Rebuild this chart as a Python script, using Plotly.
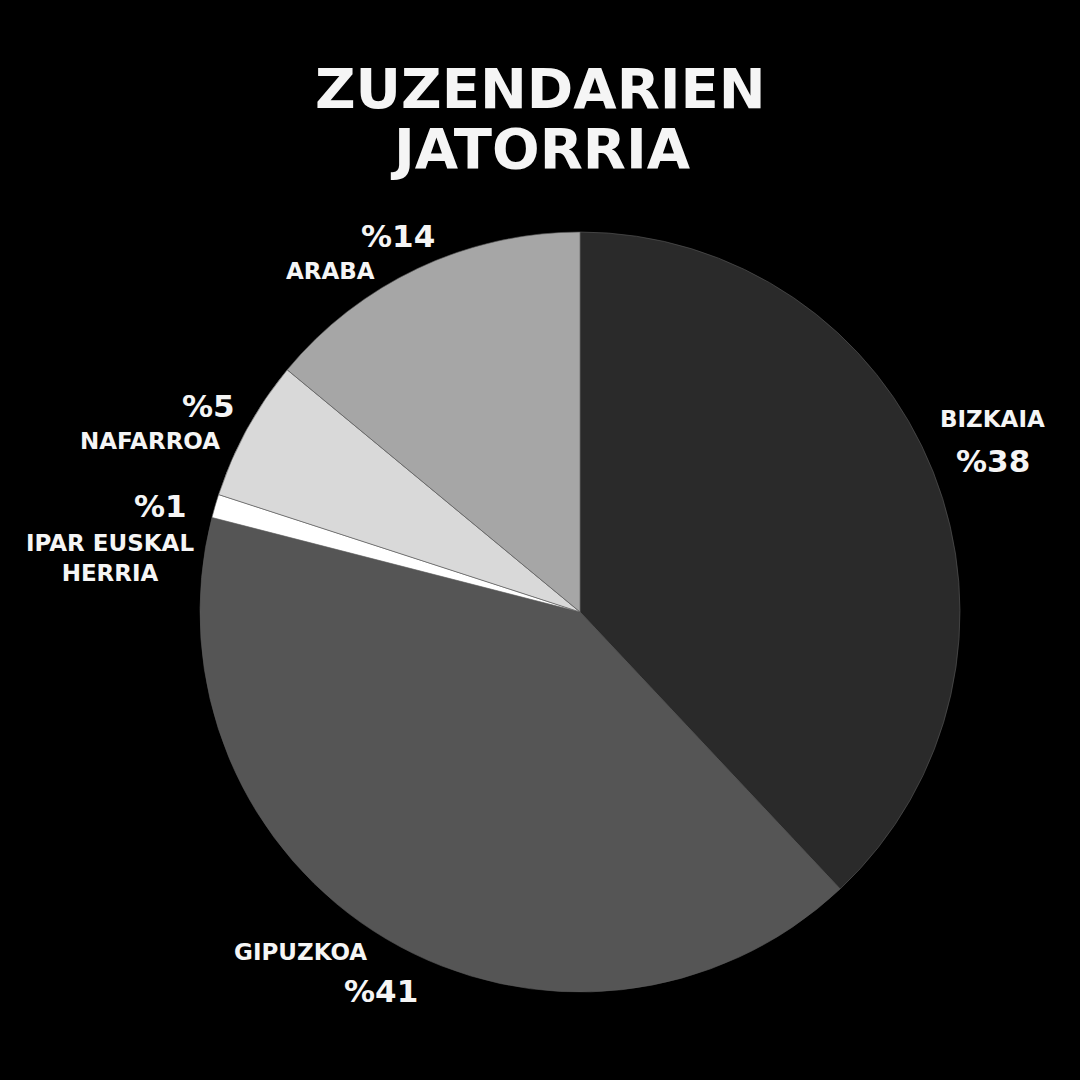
import plotly.graph_objects as go

# Data
regions = ["BIZKAIA", "GIPUZKOA", "IPAR EUSKAL HERRIA", "NAFARROA", "ARABA"]
values = [38, 41, 1, 6, 14]
pct_labels = ["%38", "%41", "%1", "%5", "%14"]
name_labels = ["BIZKAIA", "GIPUZKOA", "IPAR EUSKAL<br>HERRIA", "NAFARROA", "ARABA"]
colors = ["#2a2a2a", "#555555", "#ffffff", "#d9d9d9", "#a6a6a6"]

W = H = 1080
FONT = "DejaVu Sans"
TXT = "#f5f5f5"

fig = go.Figure()
fig.add_trace(go.Pie(
    labels=regions,
    values=values,
    sort=False,
    direction="clockwise",
    rotation=0,
    marker=dict(colors=colors, line=dict(color="#5a5a5a", width=0.6)),
    textinfo="none",
    hoverinfo="label+percent",
    showlegend=False,
    domain=dict(x=[200 / W, 960 / W], y=[1 - 992 / H, 1 - 232 / H]),
))

def px(x, y):
    return x / W, 1 - y / H

annots = []
# title
for txt, cy in [("ZUZENDARIEN", 89), ("JATORRIA", 148)]:
    x, y = px(540, cy)
    annots.append(dict(text=f"<b>{txt}</b>", x=x, y=y, xref="paper", yref="paper",
                       xanchor="center", yanchor="middle", showarrow=False,
                       font=dict(family=FONT, size=56, color=TXT)))

# label positions (pixel centers) : name then pct
name_pos = [(992, 419), (300, 952), (110, 558), (150, 441), (330, 271)]
pct_pos = [(993, 461), (381, 991), (160, 506), (208, 406), (398, 236)]
for i in range(len(regions)):
    x, y = px(*name_pos[i])
    annots.append(dict(text=f"<b>{name_labels[i]}</b>", x=x, y=y, xref="paper", yref="paper",
                       xanchor="center", yanchor="middle", showarrow=False, align="center",
                       font=dict(family=FONT, size=23, color=TXT)))
    x, y = px(*pct_pos[i])
    annots.append(dict(text=f"<b>{pct_labels[i]}</b>", x=x, y=y, xref="paper", yref="paper",
                       xanchor="center", yanchor="middle", showarrow=False,
                       font=dict(family=FONT, size=31, color=TXT)))

fig.update_layout(
    width=W, height=H,
    margin=dict(l=0, r=0, t=0, b=0),
    paper_bgcolor="#000000",
    plot_bgcolor="#000000",
    annotations=annots,
)

fig.write_html(
    "out.html",
    config={"displayModeBar": False},
    post_script="document.body.style.margin='0';document.body.style.background='#000';"
                "document.body.style.overflow='hidden';",
)
